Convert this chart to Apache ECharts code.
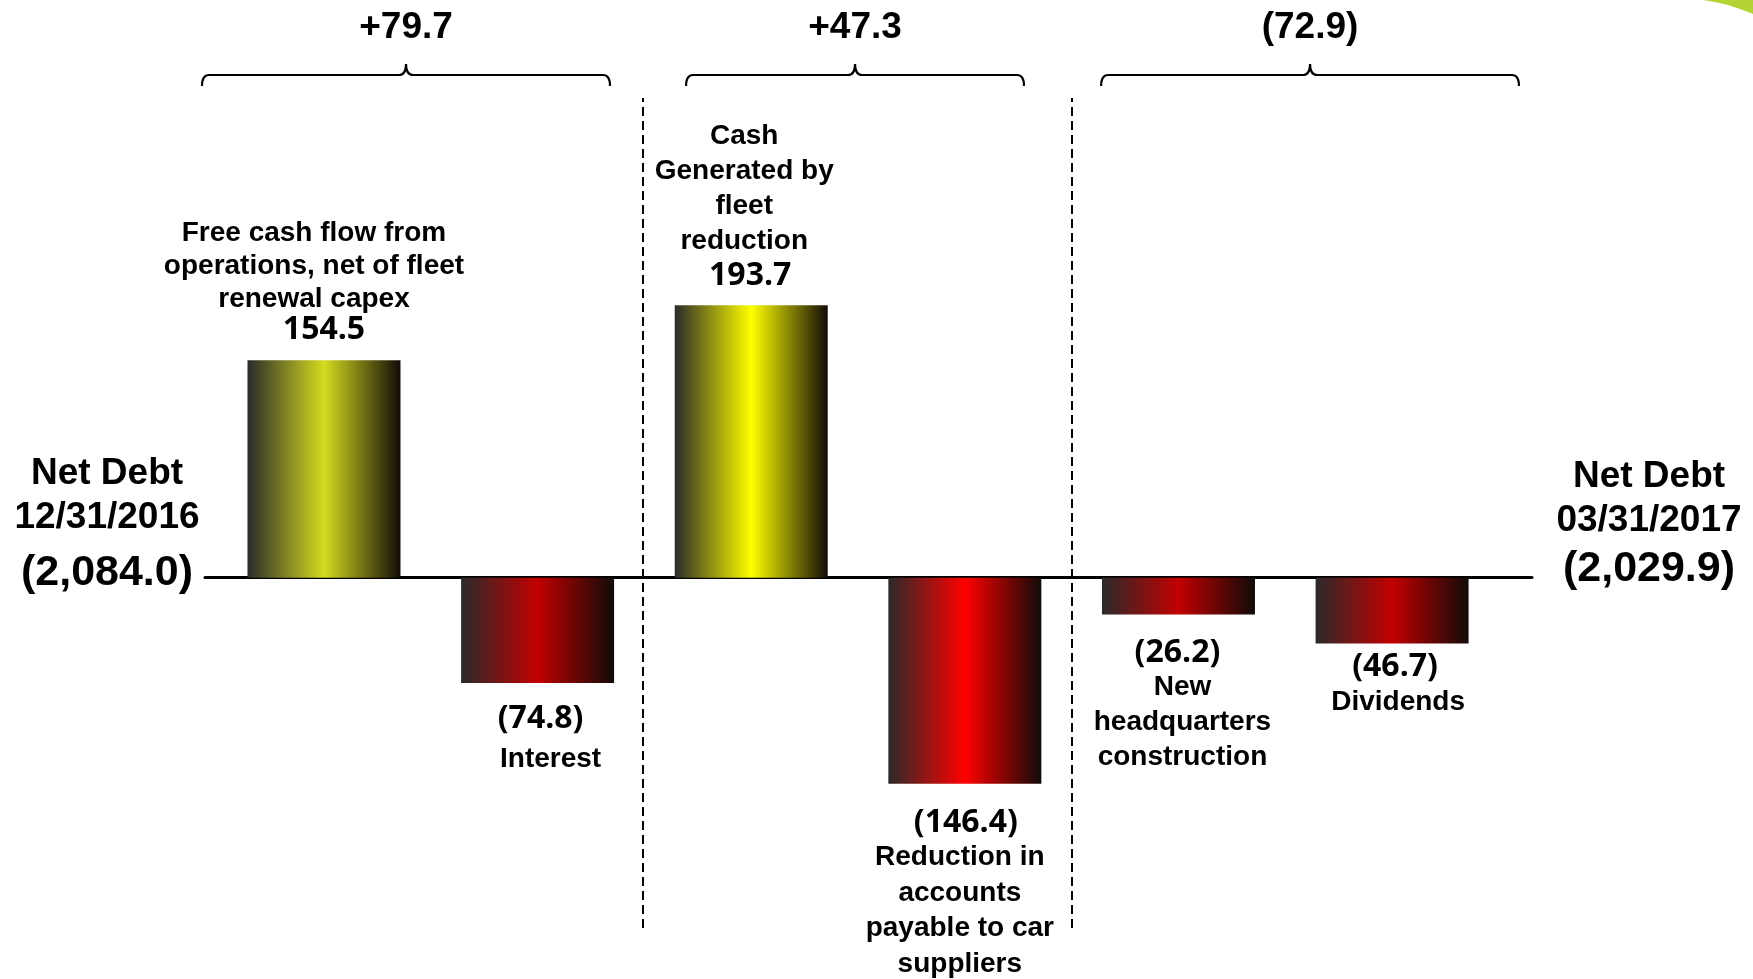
<!DOCTYPE html>
<html>
<head>
<meta charset="utf-8">
<title>Net Debt bridge 12/31/2016 – 03/31/2017</title>
<script src="https://cdn.jsdelivr.net/npm/echarts@6/dist/echarts.min.js"></script>
<style>
  html, body { margin: 0; padding: 0; background: #ffffff; }
  #chart { width: 1753px; height: 979px; }
</style>
</head>
<body>
<div id="chart"></div>
<script>
// ---- data ----
const categories = [
  'Free cash flow from\noperations, net of fleet\nrenewal capex',
  'Interest',
  'Cash\nGenerated by\nfleet\nreduction',
  'Reduction in\naccounts\npayable to car\nsuppliers',
  'New\nheadquarters\nconstruction',
  'Dividends'
];
const values = [154.5, -74.8, 193.7, -146.4, -26.2, -46.7];
const groups = [[0, 1], [2, 3], [4, 5]];          // bars summed under each bracket
const openingNetDebt = -2084.0;
const netDebtTitle = 'Net Debt';
const openingDate = '12/31/2016';
const closingDate = '03/31/2017';

// ---- styling / layout ----
const FONT = "'Liberation Sans', Arial, sans-serif";
const NUM_FONT = "'Open Sans', 'Liberation Sans', sans-serif";
const BAR_CENTER_COLORS = ['#d5db1f', '#c20000', '#ffff00', '#ff0000', '#c20000', '#c20000'];
// per-bar label placement: gap to bar end, value/category line heights, horizontal nudges
const LABEL_LAYOUT = [
  { gap: 15, valLH: 30, catLH: 33,   catShift: -10, valShift: 0 },
  { gap: 19, valLH: 34, catLH: 46,   catShift: 13,  valShift: 3 },
  { gap: 12, valLH: 34, catLH: 35,   catShift: -7,  valShift: -1 },
  { gap: 22, valLH: 34, catLH: 35.5, catShift: -5,  valShift: 1 },
  { gap: 21, valLH: 34, catLH: 35,   catShift: 4,   valShift: -1 },
  { gap: 6,  valLH: 34, catLH: 38,   catShift: 6,   valShift: 3 }
];
const BRACKET_SPANS = [[-0.571, 1.339], [1.695, 3.277], [3.638, 5.594]];
const DIVIDERS = [1.485, 3.505];
const BRACKET_Y = 75;
const GROUP_LABEL_Y = 28;

// ---- number formatting ----
function fmt(v) {
  const s = Math.abs(v).toLocaleString('en-US', { minimumFractionDigits: 1, maximumFractionDigits: 1 });
  return v < 0 ? '(' + s + ')' : s;
}
function fmtSigned(v) {
  return v < 0 ? fmt(v) : '+' + fmt(v);
}

const groupTotals = groups.map(g => Math.round(g.reduce((s, i) => s + values[i], 0) * 10) / 10);
const closingNetDebt = Math.round((openingNetDebt + values.reduce((a, b) => a + b, 0)) * 10) / 10;

function barGradient(center) {
  return {
    type: 'linear', x: 0, y: 0, x2: 1, y2: 0,
    colorStops: [
      { offset: 0, color: '#2a2a2a' },
      { offset: 0.5, color: center },
      { offset: 1, color: '#110b08' }
    ]
  };
}

// horizontal nudge of a centred rich-text line via asymmetric padding
function shiftPad(s) {
  return s >= 0 ? [0, 0, 0, 2 * s] : [0, -2 * s, 0, 0];
}

const barData = values.map((v, i) => {
  const L = LABEL_LAYOUT[i];
  const catLines = categories[i].split('\n').map(l => '{c|' + l + '}');
  const valLine = '{v|' + fmt(v) + '}';
  const text = v >= 0 ? catLines.concat([valLine]).join('\n') : [valLine].concat(catLines).join('\n');
  return {
    value: [i, v],
    itemStyle: { color: barGradient(BAR_CENTER_COLORS[i]) },
    label: {
      show: true,
      position: v >= 0 ? 'top' : 'bottom',
      distance: L.gap,
      formatter: () => text,
      rich: {
        c: {
          fontFamily: FONT, fontWeight: 'bold', fontSize: 28, lineHeight: L.catLH,
          color: '#000', align: 'center', padding: shiftPad(L.catShift)
        },
        v: {
          fontFamily: NUM_FONT, fontWeight: 'bold', fontSize: 32, lineHeight: L.valLH,
          color: '#000', align: 'center', padding: shiftPad(L.valShift)
        }
      }
    }
  };
});

const bracketData = BRACKET_SPANS.map((s, i) => [s[0], s[1], 0, i]);

function sideLabel(x, ys, lines, sizes) {
  return lines.map((t, k) => ({
    type: 'text',
    x: x,
    y: ys[k],
    silent: true,
    style: {
      text: t,
      fill: '#000',
      font: 'bold ' + sizes[k] + 'px ' + FONT,
      textAlign: 'center',
      textVerticalAlign: 'middle'
    }
  }));
}

const chart = echarts.init(document.getElementById('chart'), null, { renderer: 'canvas' });

chart.setOption({
  backgroundColor: '#ffffff',
  animation: false,
  grid: { left: 205, right: 221, top: 98, bottom: 51, containLabel: false },
  xAxis: {
    type: 'value',
    min: -0.557,
    max: 5.655,
    splitLine: { show: false },
    axisTick: { show: false },
    axisLabel: { show: false },
    axisLine: { show: true, onZero: true, lineStyle: { color: '#000', width: 3 } }
  },
  yAxis: {
    type: 'value',
    min: -249,
    max: 341,
    show: false,
    splitLine: { show: false }
  },
  series: [
    {
      type: 'bar',
      barWidth: 153,
      data: barData,
      markLine: {
        silent: true,
        symbol: 'none',
        label: { show: false },
        lineStyle: { color: '#000', width: 2, type: [9, 5] },
        data: DIVIDERS.map(x => ({ xAxis: x }))
      }
    },
    {
      type: 'custom',
      clip: false,
      silent: true,
      encode: { x: [0, 1], y: 2 },
      data: bracketData,
      renderItem: function (params, api) {
        const x0 = api.coord([api.value(0), 0])[0];
        const x1 = api.coord([api.value(1), 0])[0];
        const xc = (x0 + x1) / 2;
        const y = BRACKET_Y, r = 7, tip = 11;
        const path =
          'M' + x0 + ',' + (y + tip) +
          ' Q' + x0 + ',' + y + ' ' + (x0 + r) + ',' + y +
          ' L' + (xc - r) + ',' + y +
          ' Q' + xc + ',' + y + ' ' + xc + ',' + (y - tip) +
          ' Q' + xc + ',' + y + ' ' + (xc + r) + ',' + y +
          ' L' + (x1 - r) + ',' + y +
          ' Q' + x1 + ',' + y + ' ' + x1 + ',' + (y + tip);
        return {
          type: 'group',
          children: [
            {
              type: 'path',
              shape: { pathData: path },
              style: { fill: null, stroke: '#000', lineWidth: 2.2 }
            },
            {
              type: 'text',
              x: xc,
              y: GROUP_LABEL_Y,
              style: {
                text: fmtSigned(groupTotals[api.value(3)]),
                fill: '#000',
                font: 'bold 37px ' + FONT,
                textAlign: 'center',
                textVerticalAlign: 'middle'
              }
            }
          ]
        };
      }
    }
  ],
  graphic: [
    // lime accent in the top-right corner
    {
      type: 'polygon',
      silent: true,
      shape: { points: [[1703, 0], [1753, 0], [1753, 14], [1740, 9], [1728, 5], [1715, 2]] },
      style: { fill: '#b4d334' }
    }
  ]
    .concat(sideLabel(107, [474, 518, 573], [netDebtTitle, openingDate, fmt(openingNetDebt)], [37, 37, 43]))
    .concat(sideLabel(1649, [477, 521, 569], [netDebtTitle, closingDate, fmt(closingNetDebt)], [37, 37, 43]))
});
</script>
</body>
</html>
